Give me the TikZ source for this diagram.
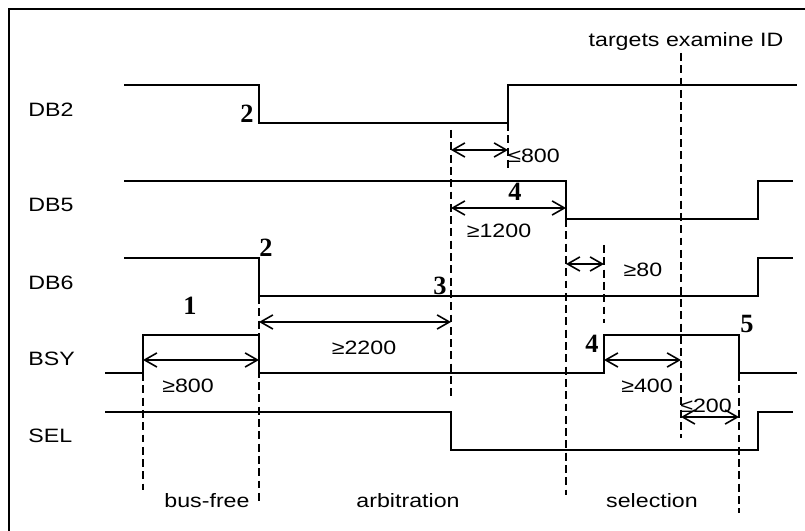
\documentclass[tikz,border=0pt]{standalone}
\usepackage{fontspec}
\setmainfont{Liberation Sans}[FakeStretch=1.2]
\newfontfamily\numfont{Liberation Serif}
\usetikzlibrary{arrows.meta}

\begin{document}
\begin{tikzpicture}[x=0.2mm, y=-0.2mm,
  sig/.style={line width=1.1pt},
  guide/.style={line width=0.9pt, dash pattern=on 4.5pt off 2.5pt},
  span/.style={line width=0.9pt, {Straight Barb[length=7pt,width=8pt]}-{Straight Barb[length=7pt,width=8pt]}},
  lbl/.style={anchor=base, inner sep=0pt, font=\fontsize{11}{13}\selectfont},
  sname/.style={lbl, anchor=base west},
  stepno/.style={anchor=base, inner sep=0pt, font=\fontsize{15}{17}\selectfont\numfont\bfseries}]
\useasboundingbox (0,0) rectangle (805,531);
\clip (0,0) rectangle (805,531);
\draw[line width=1pt] (9,9) rectangle (830,560);

% signal names
\node[sname] (db2) at (28,117) {DB2};
\node[sname] (db5) at (28,212) {DB5};
\node[sname] (db6) at (28,290) {DB6};
\node[sname] (bsy) at (28,366) {BSY};
\node[sname] (sel) at (28,443) {SEL};

% waveforms
\draw[sig] (124,85) -- (259,85) -- (259,123) -- (508,123) -- (508,85) -- (797,85);
\draw[sig] (124,181) -- (566,181) -- (566,219) -- (758,219) -- (758,181) -- (793,181);
\draw[sig] (124,258) -- (259,258) -- (259,296) -- (758,296) -- (758,258) -- (793,258);
\draw[sig] (105,373) -- (143,373) -- (143,335) -- (259,335) -- (259,373) -- (604,373)
  -- (604,335) -- (739,335) -- (739,373) -- (797,373);
\draw[sig] (105,412) -- (451,412) -- (451,450) -- (758,450) -- (758,412) -- (793,412);

% guide lines
\coordinate (g1t) at (143,373); \coordinate (g1b) at (143,490);
\coordinate (g2t) at (259,296); \coordinate (g2b) at (259,505);
\coordinate (g3t) at (451,130); \coordinate (g3b) at (451,400);
\coordinate (g4t) at (508,123); \coordinate (g4b) at (508,168);
\coordinate (g5t) at (566,219); \coordinate (g5b) at (566,495);
\coordinate (g6t) at (604,245); \coordinate (g6b) at (604,323);
\coordinate (g7t) at (681,53);  \coordinate (g7b) at (681,438);
\coordinate (g8t) at (739,373); \coordinate (g8b) at (739,513);
\foreach \g in {1,...,8}
  \draw[guide] (g\g t) -- (g\g b);

% timing spans
\coordinate (s1a) at (451,150); \coordinate (s1b) at (508,150);
\coordinate (s2a) at (451,208); \coordinate (s2b) at (566,208);
\coordinate (s3a) at (566,264); \coordinate (s3b) at (604,264);
\coordinate (s4a) at (259,322); \coordinate (s4b) at (451,322);
\coordinate (s5a) at (143,360); \coordinate (s5b) at (259,360);
\coordinate (s6a) at (604,360); \coordinate (s6b) at (681,360);
\coordinate (s7a) at (681,417); \coordinate (s7b) at (739,417);
\foreach \s in {1,...,7}
  \draw[span] (s\s a) -- (s\s b);

% span values
\node[lbl] (le800) at (534,163) {≤800};
\node[lbl] (ge1200) at (499,238) {≥1200};
\node[lbl] (ge80) at (643,277) {≥80};
\node[lbl] (ge2200) at (364,355) {≥2200};
\node[lbl] (ge800) at (188,393) {≥800};
\node[lbl] (ge400) at (647,393) {≥400};
\node[lbl] (le200) at (706,413) {≤200};

% step numbers
\node[stepno] (n2a) at (247,123) {2};
\node[stepno] (n4a) at (515,201) {4};
\node[stepno] (n2b) at (266,257) {2};
\node[stepno] (n3) at (440,295) {3};
\node[stepno] (n1) at (190,315) {1};
\node[stepno] (n4b) at (592,353) {4};
\node[stepno] (n5) at (747,333) {5};

% phases
\node[lbl] (target) at (686,47) {targets examine ID};
\node[lbl] (busfree) at (207,508) {bus-free};
\node[lbl] (arbit) at (408,508) {arbitration};
\node[lbl] (select) at (652,508) {selection};
\end{tikzpicture}
\end{document}
